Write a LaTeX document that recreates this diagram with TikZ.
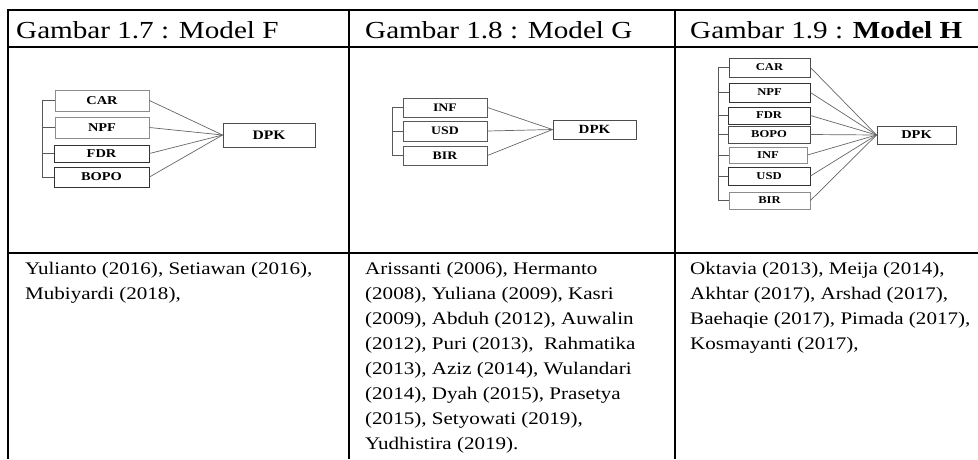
\documentclass[tikz,border=0pt]{standalone}
\usepackage{fontspec}
\setmainfont{Liberation Serif}[FakeStretch=1.19]
\newfontfamily\plainserif{Liberation Serif}
% bold box label, widened like the running text
\newcommand{\lbl}[1]{\scalebox{1.2}[1]{\plainserif\bfseries #1}}
\begin{document}
\begin{tikzpicture}[x=1pt,y=-1pt,
  rule/.style={line width=2pt, black},
  head/.style={anchor=base west, inner sep=0pt, font=\fontsize{24.5}{28}\selectfont},
  body/.style={anchor=north west, inner sep=0pt, align=left,
    font=\fontsize{17.7}{25}\selectfont},
  varbox/.style={draw=black!80, line width=0.9pt, inner sep=0pt},
  lightbox/.style={varbox, draw=black!45},
  link/.style={draw=black!60, line width=0.7pt},
  brace/.style={draw=black!65, line width=0.9pt}]
\useasboundingbox (0,0) rectangle (978,459);

% table rules
\draw[rule] (8,10) -- (978,10);
\draw[rule] (8,47) -- (978,47);
\draw[rule] (8,253) -- (978,253);
\draw[rule] (8,9) -- (8,459);
\draw[rule] (349,9) -- (349,459);
\draw[rule] (675,9) -- (675,459);

% column headings
\node[head] (hF) at (16,38) {Gambar 1.7 : Model F};
\node[head] (hG) at (365,38) {Gambar 1.8 : Model G};
\node[head] (hH) at (690,38) {Gambar 1.9 : \textbf{Model H}};

% ---------- Model F ----------
\begin{scope}[every node/.append style={font=\fontsize{12}{12}\selectfont}]
\node[lightbox, minimum width=94pt, minimum height=21pt] (fcar) at (102,100.5) {\lbl{CAR}};
\node[lightbox, minimum width=94pt, minimum height=21pt] (fnpf) at (102,127.5) {\lbl{NPF}};
\node[varbox, minimum width=95pt, minimum height=17pt] (ffdr) at (101.5,153.5) {\lbl{FDR}};
\node[varbox, minimum width=95pt, minimum height=20pt] (fbopo) at (101.5,177) {\lbl{BOPO}};
\end{scope}
\node[varbox, draw=black!70, minimum width=92pt, minimum height=24pt,
  font=\fontsize{13}{13}\selectfont] (fdpk) at (269,135) {\lbl{DPK}};
\coordinate (fb) at (42,100);
\draw[brace] (42,100.5) -- (42,177);
\foreach \n in {fcar,fnpf,ffdr,fbopo}
  \draw[brace] (\n.west) -| (fb);
\foreach \n in {fcar,fnpf,ffdr,fbopo}
  \draw[link] (\n.east) -- (fdpk.west);

% ---------- Model G ----------
\begin{scope}[every node/.append style={font=\fontsize{11.5}{11.5}\selectfont}]
\node[varbox, draw=black!65, minimum width=84pt, minimum height=19pt] (ginf) at (445,107.5) {\lbl{INF}};
\node[varbox, draw=black!65, minimum width=84pt, minimum height=20pt] (gusd) at (445,131) {\lbl{USD}};
\node[varbox, draw=black!65, minimum width=84pt, minimum height=19pt] (gbir) at (445,155.5) {\lbl{BIR}};
\end{scope}
\node[varbox, draw=black!70, minimum width=83pt, minimum height=19pt,
  font=\fontsize{12.5}{12.5}\selectfont] (gdpk) at (594.5,129.5) {\lbl{DPK}};
\coordinate (gb) at (392,108);
\draw[brace] (392,107.5) -- (392,155.5);
\foreach \n in {ginf,gusd,gbir}
  \draw[brace] (\n.west) -| (gb);
\foreach \n in {ginf,gusd,gbir}
  \draw[link] (\n.east) -- (gdpk.west);

% ---------- Model H ----------
\begin{scope}[every node/.append style={font=\fontsize{10.5}{10.5}\selectfont}]
\node[varbox, draw=black!70, minimum width=81pt, minimum height=19pt] (hcar) at (769.5,67.5) {\lbl{CAR}};
\node[varbox, minimum width=81pt, minimum height=19pt] (hnpf) at (769.5,92.5) {\lbl{NPF}};
\node[varbox, minimum width=82pt, minimum height=17pt] (hfdr) at (769,115.5) {\lbl{FDR}};
\node[varbox, draw=black!70, minimum width=82pt, minimum height=17pt] (hbopo) at (769,134.5) {\lbl{BOPO}};
\node[lightbox, minimum width=78pt, minimum height=16pt] (hinf) at (768,155) {\lbl{INF}};
\node[varbox, minimum width=82pt, minimum height=18pt] (husd) at (769,176) {\lbl{USD}};
\node[lightbox, minimum width=81pt, minimum height=17pt] (hbir) at (769.5,200.5) {\lbl{BIR}};
\end{scope}
\node[varbox, draw=black!70, minimum width=79pt, minimum height=18pt,
  font=\fontsize{12}{12}\selectfont] (hdpk) at (916.5,135) {\lbl{DPK}};
\coordinate (hb) at (718,67.5);
\draw[brace] (718,67.5) -- (718,200.5);
\foreach \n in {hcar,hnpf,hfdr,hbopo,hinf,husd,hbir}
  \draw[brace] (\n.west) -| (hb);
\foreach \n in {hcar,hnpf,hfdr,hbopo,hinf,husd,hbir}
  \draw[link] (\n.east) -- (hdpk.west);

% ---------- references ----------
\node[body] (rF) at (25,262) {Yulianto (2016), Setiawan (2016),\\
Mubiyardi (2018),};
\node[body] (rG) at (365,262) {Arissanti (2006), Hermanto\\
(2008), Yuliana (2009), Kasri\\
(2009), Abduh (2012), Auwalin\\
(2012), Puri (2013),~ Rahmatika\\
(2013), Aziz (2014), Wulandari\\
(2014), Dyah (2015), Prasetya\\
(2015), Setyowati (2019),\\
Yudhistira (2019).};
\node[body] (rH) at (690,262) {Oktavia (2013), Meija (2014),\\
Akhtar (2017), Arshad (2017),\\
Baehaqie (2017), Pimada (2017),\\
Kosmayanti (2017),};
\end{tikzpicture}
\end{document}
